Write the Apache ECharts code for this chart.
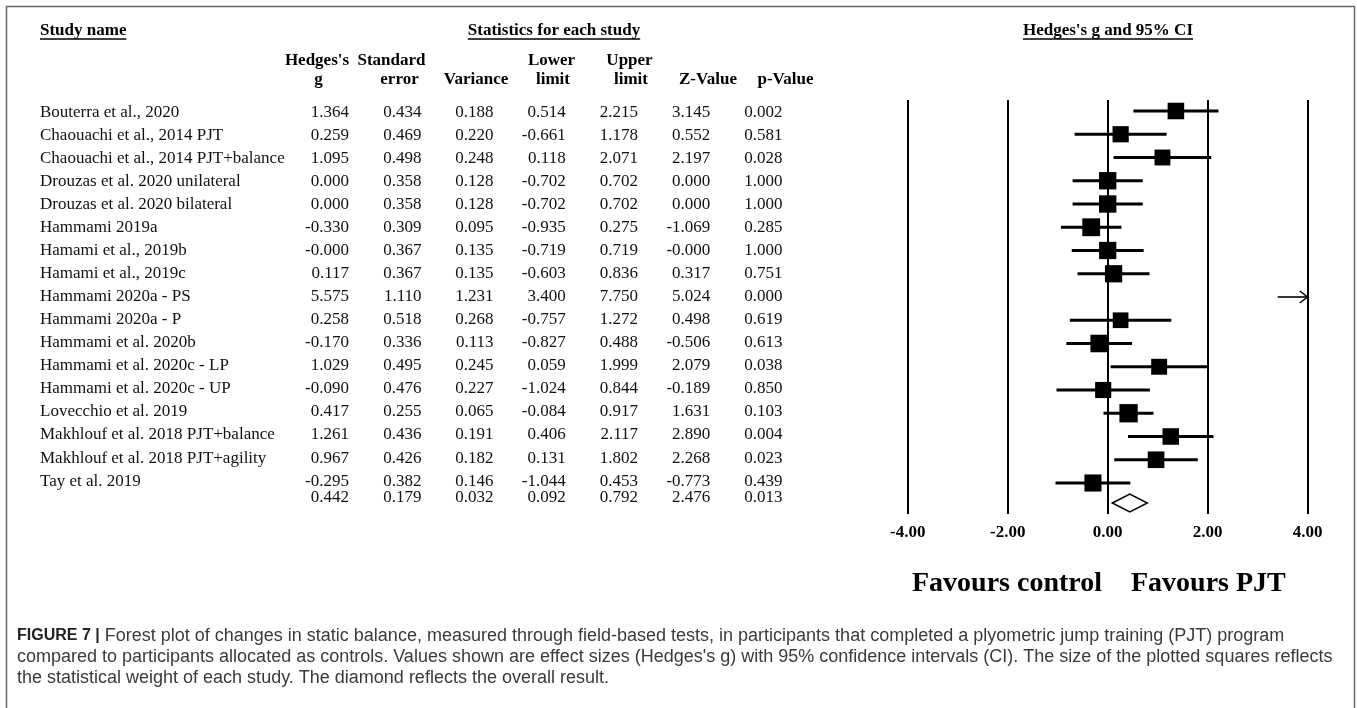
<!DOCTYPE html>
<html><head><meta charset="utf-8">
<script src="https://cdn.jsdelivr.net/npm/echarts@6/dist/echarts.min.js"></script>
<style>html,body{margin:0;padding:0;background:#fff}#c{width:1357px;height:708px}</style>
</head><body><div id="c"></div>
<script>
// ---------------- data ----------------
const studies = [
  'Bouterra et al., 2020',
  'Chaouachi et al., 2014 PJT',
  'Chaouachi et al., 2014 PJT+balance',
  'Drouzas et al. 2020 unilateral',
  'Drouzas et al. 2020 bilateral',
  'Hammami 2019a',
  'Hamami et al., 2019b',
  'Hamami et al., 2019c',
  'Hammami 2020a - PS',
  'Hammami 2020a - P',
  'Hammami et al. 2020b',
  'Hammami et al. 2020c - LP',
  'Hammami et al. 2020c - UP',
  'Lovecchio et al. 2019',
  'Makhlouf et al. 2018 PJT+balance',
  'Makhlouf et al. 2018 PJT+agility',
  'Tay et al. 2019'
];
const hedgesG   = [1.364, 0.259, 1.095, 0.000, 0.000, -0.330, -0, 0.117, 5.575, 0.258, -0.170, 1.029, -0.090, 0.417, 1.261, 0.967, -0.295];
const stdError  = [0.434, 0.469, 0.498, 0.358, 0.358, 0.309, 0.367, 0.367, 1.110, 0.518, 0.336, 0.495, 0.476, 0.255, 0.436, 0.426, 0.382];
const variance  = [0.188, 0.220, 0.248, 0.128, 0.128, 0.095, 0.135, 0.135, 1.231, 0.268, 0.113, 0.245, 0.227, 0.065, 0.191, 0.182, 0.146];
const lowerLim  = [0.514, -0.661, 0.118, -0.702, -0.702, -0.935, -0.719, -0.603, 3.400, -0.757, -0.827, 0.059, -1.024, -0.084, 0.406, 0.131, -1.044];
const upperLim  = [2.215, 1.178, 2.071, 0.702, 0.702, 0.275, 0.719, 0.836, 7.750, 1.272, 0.488, 1.999, 0.844, 0.917, 2.117, 1.802, 0.453];
const zValue    = [3.145, 0.552, 2.197, 0.000, 0.000, -1.069, -0, 0.317, 5.024, 0.498, -0.506, 2.079, -0.189, 1.631, 2.890, 2.268, -0.773];
const pValue    = [0.002, 0.581, 0.028, 1.000, 1.000, 0.285, 1.000, 0.751, 0.000, 0.619, 0.613, 0.038, 0.850, 0.103, 0.004, 0.023, 0.439];
// overall: g, se, variance, lower, upper, z, p
const overall   = [0.442, 0.179, 0.032, 0.092, 0.792, 2.476, 0.013];
const xTicks    = [-4, -2, 0, 2, 4];
const columnHeads = [["Hedges's", 'g'], ['Standard', 'error'], ['', 'Variance'], ['Lower', 'limit'], ['Upper', 'limit'], ['', 'Z-Value'], ['', 'p-Value']];

// ---------------- layout ----------------
const SERIF = '"Liberation Serif","Times New Roman",Times,serif';
const SANS = '"Liberation Sans",Arial,Helvetica,sans-serif';
const colRight = [349, 421.5, 493.5, 565.7, 638, 710.3, 782.5];
const headCenter = [[317, 318.5], [391.5, 399.5], [476, 476], [551.5, 553], [629.5, 631], [708, 708], [785.5, 785.5]];
const NAME_X = 40;
const TABLE_SUMMARY_ROW = 16.72;
const PLOT_SUMMARY_ROW = 16.86;

const fmt = v => (Object.is(v, -0) ? '-0.000' : v.toFixed(3));

const tableData = studies.map((n, i) => [0, i, i]);
tableData.push([0, TABLE_SUMMARY_ROW, -1]);

const plotData = studies.map((n, i) => [hedgesG[i], i, lowerLim[i], upperLim[i], variance[i]]);

const chart = echarts.init(document.getElementById('c'), null, { renderer: 'canvas' });

const mctx = document.createElement('canvas').getContext('2d');
function textW(t, font) { mctx.font = font; return mctx.measureText(t).width; }

function headerWithUnderline(text, x, y, align) {
  const font = 'bold 17px ' + SERIF;
  const w = textW(text, font);
  const x0 = align === 'center' ? x - w / 2 : x;
  return [
    { type: 'text', x: x, y: y, style: { text: text, font: font, fill: '#000', align: align, verticalAlign: 'middle' } },
    { type: 'line', shape: { x1: x0, y1: y + 8, x2: x0 + w, y2: y + 8 }, style: { stroke: '#000', lineWidth: 1.5 } }
  ];
}

const graphics = [];
// border
graphics.push({ type: 'polyline', shape: { points: [[6.5, 708], [6.5, 6.5], [1354.5, 6.5], [1354.5, 708]] }, style: { stroke: '#666', lineWidth: 1.5, fill: null } });
graphics.push(...headerWithUnderline('Study name', NAME_X, 31, 'left'));
graphics.push(...headerWithUnderline('Statistics for each study', 554, 31, 'center'));
graphics.push(...headerWithUnderline("Hedges's g and 95% CI", 1108, 31, 'center'));
columnHeads.forEach((h, k) => {
  if (h[0]) graphics.push({ type: 'text', x: headCenter[k][0], y: 61, style: { text: h[0], font: 'bold 17px ' + SERIF, fill: '#000', align: 'center', verticalAlign: 'middle' } });
  graphics.push({ type: 'text', x: headCenter[k][1], y: 80, style: { text: h[1], font: 'bold 17px ' + SERIF, fill: '#000', align: 'center', verticalAlign: 'middle' } });
});
graphics.push({ type: 'text', x: 1102, y: 584, style: { text: 'Favours control', font: 'bold 28px ' + SERIF, fill: '#000', align: 'right', verticalAlign: 'middle' } });
graphics.push({ type: 'text', x: 1131, y: 584, style: { text: 'Favours PJT', font: 'bold 28px ' + SERIF, fill: '#000', align: 'left', verticalAlign: 'middle' } });
graphics.push({
  type: 'text', x: 17, y: 625.5,
  style: {
    text: '{b|FIGURE 7 |} Forest plot of changes in static balance, measured through field-based tests, in participants that completed a plyometric jump training (PJT) program\n' +
      "compared to participants allocated as controls. Values shown are effect sizes (Hedges's g) with 95% confidence intervals (CI). The size of the plotted squares reflects\n" +
      'the statistical weight of each study. The diamond reflects the overall result.',
    font: '18px ' + SANS, fill: '#3a3a3a', lineHeight: 21, verticalAlign: 'top', align: 'left',
    rich: { b: { fontWeight: 'bold', fontSize: 16, fontFamily: SANS, fill: '#222', lineHeight: 21 } }
  }
});

const option = {
  animation: false,
  backgroundColor: '#fff',
  grid: [
    { left: 0, width: 1357, top: 101.2, height: 414.4 },
    { left: 907.7, width: 400, top: 100, height: 414 }
  ],
  xAxis: [
    { gridIndex: 0, type: 'value', min: 0, max: 1357, show: false },
    {
      gridIndex: 1, type: 'value', min: xTicks[0], max: xTicks[xTicks.length - 1], interval: 2,
      axisLine: { show: false }, axisTick: { show: false },
      splitLine: { show: true, lineStyle: { color: '#000', width: 2 } },
      axisLabel: { margin: 10, fontFamily: SERIF, fontWeight: 'bold', fontSize: 17, color: '#000', formatter: v => v.toFixed(2) }
    }
  ],
  yAxis: [
    { gridIndex: 0, type: 'value', inverse: true, min: -0.5, max: 17.5, show: false },
    { gridIndex: 1, type: 'value', inverse: true, min: -0.473, max: 17.333, show: false }
  ],
  series: [
    {
      type: 'custom', xAxisIndex: 0, yAxisIndex: 0, data: tableData, encode: { x: 0, y: 1 }, clip: false,
      renderItem: function (params, api) {
        const idx = api.value(2);
        const row = api.value(1);
        const y = api.coord([0, row])[1];
        const vals = idx >= 0
          ? [hedgesG[idx], stdError[idx], variance[idx], lowerLim[idx], upperLim[idx], zValue[idx], pValue[idx]]
          : overall;
        const children = [];
        const font = '17px ' + SERIF;
        if (idx >= 0) {
          children.push({ type: 'text', x: api.coord([NAME_X, row])[0], y: y, style: { text: studies[idx], font: font, fill: '#111', align: 'left', verticalAlign: 'middle' } });
        }
        vals.forEach((v, k) => {
          children.push({ type: 'text', x: api.coord([colRight[k], row])[0], y: y, style: { text: fmt(v), font: font, fill: '#111', align: 'right', verticalAlign: 'middle' } });
        });
        return { type: 'group', children: children };
      }
    },
    {
      type: 'custom', xAxisIndex: 1, yAxisIndex: 1, data: plotData, encode: { x: 0, y: 1 }, clip: false, z: 5,
      renderItem: function (params, api) {
        const g = api.value(0), row = api.value(1), lo = api.value(2), hi = api.value(3), v = api.value(4);
        const cs = params.coordSys;
        const xMax = cs.x + cs.width, xMin = cs.x;
        const y = api.coord([0, row])[1];
        const xg = api.coord([g, row])[0];
        const xl = Math.max(xMin, api.coord([lo, row])[0]);
        const xh = Math.min(xMax, api.coord([hi, row])[0]);
        if (xg > xMax) {
          return {
            type: 'group', children: [
              { type: 'line', shape: { x1: xl, y1: y, x2: xMax, y2: y }, style: { stroke: '#000', lineWidth: 1.6 } },
              { type: 'polyline', shape: { points: [[xMax - 8, y - 6], [xMax, y], [xMax - 8, y + 6]] }, style: { stroke: '#000', lineWidth: 1.5, fill: null } }
            ]
          };
        }
        const s = 13.75 * Math.sqrt(1 / (v + 0.5));
        return {
          type: 'group', children: [
            { type: 'line', shape: { x1: xl, y1: y, x2: xh, y2: y }, style: { stroke: '#000', lineWidth: 2.8 } },
            { type: 'rect', shape: { x: xg - s / 2, y: y - s / 2, width: s, height: s }, style: { fill: '#000' } }
          ]
        };
      }
    },
    {
      type: 'custom', xAxisIndex: 1, yAxisIndex: 1, data: [[overall[0], PLOT_SUMMARY_ROW, overall[3], overall[4]]], encode: { x: 0, y: 1 }, clip: false, z: 5,
      renderItem: function (params, api) {
        const g = api.value(0), row = api.value(1), lo = api.value(2), hi = api.value(3);
        const y = api.coord([0, row])[1];
        const xg = api.coord([g, row])[0], xl = api.coord([lo, row])[0], xh = api.coord([hi, row])[0];
        return {
          type: 'polygon', shape: { points: [[xl, y], [xg, y - 9], [xh, y], [xg, y + 9]] },
          style: { fill: '#fff', stroke: '#000', lineWidth: 1.5 }
        };
      }
    }
  ],
  graphic: { elements: graphics }
};
chart.setOption(option);
</script>
</body></html>
